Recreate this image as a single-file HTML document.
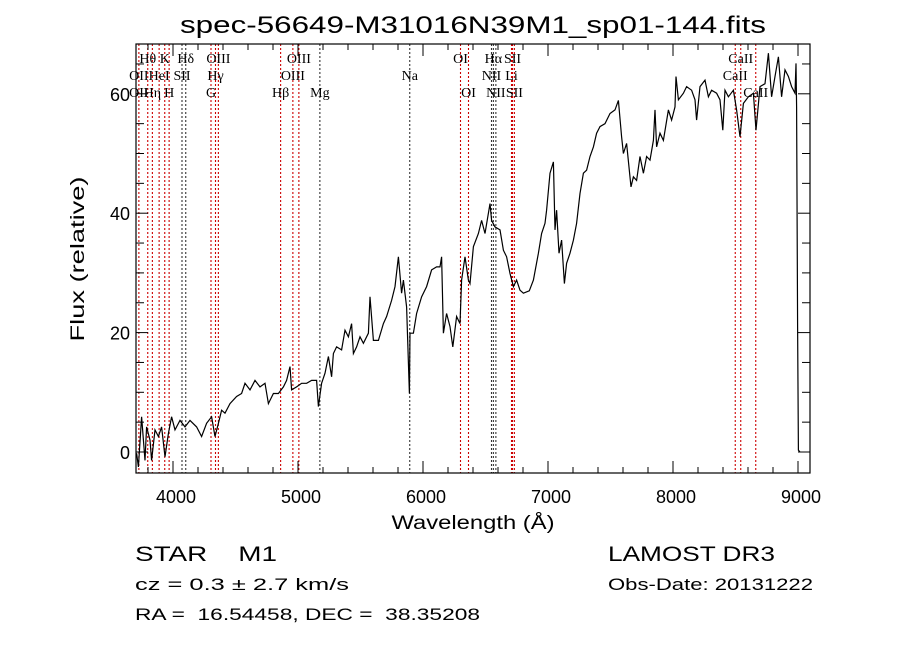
<!DOCTYPE html>
<html><head><meta charset="utf-8"><style>
html,body{margin:0;padding:0;background:#fff}
svg text{font-family:"Liberation Sans",sans-serif;fill:#000;white-space:pre}
svg .lab{font-family:"Liberation Serif",serif}
</style></head><body>
<svg id="chart" width="900" height="649" viewBox="0 0 900 649" xmlns="http://www.w3.org/2000/svg">
<rect width="900" height="649" fill="#fff"/>
<defs><clipPath id="clip"><rect x="136" y="44" width="674" height="429"/></clipPath></defs>
<text x="473" y="33" text-anchor="middle" font-size="24" textLength="586" lengthAdjust="spacingAndGlyphs">spec-56649-M31016N39M1_sp01-144.fits</text>
<g id="lines"></g>
<g id="labels"></g>
<path id="spec" fill="none" stroke="#000" stroke-width="1.2" clip-path="url(#clip)"/>
<rect x="136" y="44" width="674" height="429" fill="none" stroke="#000" stroke-width="1.2"/>
<g id="ticks" stroke="#000" stroke-width="1"></g>
<g id="ticklabels" font-size="18"></g>
<text x="473" y="529" text-anchor="middle" font-size="19" textLength="163" lengthAdjust="spacingAndGlyphs">Wavelength (Å)</text>
<text transform="translate(84,259) rotate(-90)" text-anchor="middle" font-size="19" textLength="165" lengthAdjust="spacingAndGlyphs">Flux (relative)</text>
<text x="135" y="561" font-size="21" textLength="142" lengthAdjust="spacingAndGlyphs">STAR    M1</text>
<text x="608" y="561" font-size="21" textLength="167" lengthAdjust="spacingAndGlyphs">LAMOST DR3</text>
<text x="135" y="590" font-size="17" textLength="214" lengthAdjust="spacingAndGlyphs">cz = 0.3 ± 2.7 km/s</text>
<text x="608" y="590" font-size="17" textLength="205" lengthAdjust="spacingAndGlyphs">Obs-Date: 20131222</text>
<text x="135" y="620" font-size="17" textLength="345" lengthAdjust="spacingAndGlyphs">RA =  16.54458, DEC =  38.35208</text>
</svg>
<script>
const wavelengths=[3709,3723,3749,3776,3789,3816,3829,3856,3883,3909,3936,3963,3989,4016,4056,4096,4136,4189,4229,4269,4309,4336,4363,4389,4416,4456,4509,4549,4576,4616,4656,4696,4736,4763,4803,4843,4883,4909,4936,4949,4989,5029,5069,5109,5149,5163,5189,5216,5243,5269,5283,5309,5349,5376,5403,5429,5443,5469,5496,5523,5563,5576,5603,5643,5683,5709,5749,5776,5803,5829,5843,5869,5891,5896,5923,5949,5989,6029,6069,6109,6136,6149,6163,6189,6216,6238,6269,6296,6309,6336,6363,6376,6403,6443,6469,6496,6523,6536,6549,6576,6616,6643,6669,6696,6723,6749,6776,6803,6850,6883,6923,6949,6976,6989,7016,7043,7056,7069,7088,7109,7131,7149,7176,7203,7229,7256,7283,7309,7336,7363,7389,7416,7456,7496,7536,7563,7589,7603,7629,7664,7683,7709,7736,7763,7789,7816,7843,7856,7869,7896,7923,7963,7989,8016,8024,8043,8083,8109,8149,8176,8189,8216,8256,8283,8309,8349,8376,8398,8416,8443,8483,8509,8536,8563,8603,8643,8664,8696,8736,8763,8789,8816,8843,8869,8896,8923,8949,8976,8984,8989,8997,9003,9016];
const fluxes=[-0.2,-2.5,5.9,-1.4,4.2,2.0,-1.4,3.7,2.6,4.2,-0.8,3.1,5.9,3.7,5.3,4.2,5.3,4.2,2.6,4.8,5.9,2.6,4.8,7.0,6.5,8.1,9.3,9.8,11.5,10.4,12.0,10.9,11.5,8.1,9.8,9.8,10.9,12.0,14.3,10.4,10.9,11.5,11.5,12.0,12.0,7.6,11.5,13.2,16.0,12.6,16.5,17.6,17.1,20.4,19.3,21.5,16.5,17.6,19.3,18.2,19.9,26.0,18.7,18.7,21.5,22.7,25.4,27.7,32.7,26.6,28.8,24.3,9.8,19.9,19.9,23.2,26.0,27.7,30.5,31.0,31.0,32.7,19.9,23.2,21.0,17.6,22.7,21.5,28.8,32.7,28.8,28.2,34.4,36.6,38.8,36.6,40.0,41.6,38.8,37.7,37.2,33.8,32.7,29.9,27.7,28.8,27.1,26.6,27.0,28.8,33.3,36.6,38.3,40.5,46.7,48.6,37.2,40.5,33.3,35.5,28.2,31.6,33.3,35.5,38.3,43.3,46.7,47.2,49.5,51.1,53.4,54.5,55.0,56.7,57.3,58.9,52.8,50.0,51.7,44.4,46.1,45.5,49.5,46.7,49.5,48.9,52.2,57.3,51.1,53.4,52.2,57.3,55.6,57.8,62.9,59.0,60.1,61.2,60.6,59.0,55.6,61.2,62.3,59.5,60.6,60.1,59.0,53.9,60.6,59.5,60.6,57.3,52.8,58.4,59.5,60.1,53.9,61.2,61.7,66.8,59.5,62.9,66.2,59.5,64.0,62.9,61.2,60.1,65.1,57.8,21.0,0.3,0.0];
const lineWaves=[3727,3798,3835,3889,3934,3969,4072,4102,4304,4340,4363,4861,4959,5007,5175,5894,6300,6364,6548,6563,6583,6708,6716,6731,8498,8542,8662];
const lineColors=["#c00","#c00","#c00","#c00","#c00","#c00","#333","#333","#c00","#c00","#c00","#c00","#c00","#c00","#333","#333","#c00","#c00","#333","#333","#333","#c00","#c00","#c00","#c00","#c00","#c00"];
const labelText=["Hθ","K","Hδ","OIII","OIII","OI","Hα","SII","CaII","OII","HeI","SII","Hγ","OIII","Na","NII","Li","CaII","OII","Hη","H","G","Hβ","Mg","OI","NII","SII","CaII"];
const labelWave=[3798,3934,4102,4363,5007,6300,6563,6716,8542,3727,3889,4072,4340,4959,5894,6548,6708,8498,3727,3835,3969,4304,4861,5175,6364,6583,6731,8662];
const labelRow=[0,0,0,0,0,0,0,0,0,1,1,1,1,1,1,1,1,1,2,2,2,2,2,2,2,2,2,2];
const xTicks=[4000,5000,6000,7000,8000,9000];
const yTicks=[0,20,40,60];
const NS='http://www.w3.org/2000/svg';
const X0=136,X1=810,Y0=44,Y1=473;
function xs(w){return 173+(w-4000)*0.125;}
function ys(f){return 452-f*5.97;}
function mk(tag,attrs,parent){const e=document.createElementNS(NS,tag);for(const k in attrs)e.setAttribute(k,attrs[k]);parent.appendChild(e);return e;}
let d='';
for(let i=0;i<wavelengths.length;i++){d+=(i?'L':'M')+xs(wavelengths[i]).toFixed(1)+' '+ys(fluxes[i]).toFixed(1);}
document.getElementById('spec').setAttribute('d',d);
const gl=document.getElementById('lines');
lineWaves.forEach((w,i)=>{const l=mk('line',{x1:xs(w),x2:xs(w),y1:Y0,y2:Y1,stroke:lineColors[i],'stroke-width':1.1,'stroke-dasharray':'2,2'},gl);

});
const glab=document.getElementById('labels');
labelText.forEach((t,i)=>{const e=mk('text',{x:xs(labelWave[i]),y:63+labelRow[i]*17,'text-anchor':'middle','font-size':14,'class':'lab'},glab);e.textContent=t;

});
const gt=document.getElementById('ticks'),gtl=document.getElementById('ticklabels');
for(let w=3800;w<=9000;w+=200){const maj=w%1000===0;const L=maj?12:6;
mk('line',{x1:xs(w),x2:xs(w),y1:Y1,y2:Y1-L},gt);mk('line',{x1:xs(w),x2:xs(w),y1:Y0,y2:Y0+L},gt);}
for(let f=0;f<=65;f+=5){const maj=f%20===0;const L=maj?12:8;
mk('line',{x1:X0,x2:X0+L,y1:ys(f),y2:ys(f)},gt);mk('line',{x1:X1,x2:X1-L,y1:ys(f),y2:ys(f)},gt);}
xTicks.forEach(w=>{const e=mk('text',{x:xs(w)+3,y:503,'text-anchor':'middle'},gtl);e.textContent=w;

});
yTicks.forEach(f=>{const e=mk('text',{x:130,y:ys(f)+7,'text-anchor':'end'},gtl);e.textContent=f;

});
</script>
</body></html>
